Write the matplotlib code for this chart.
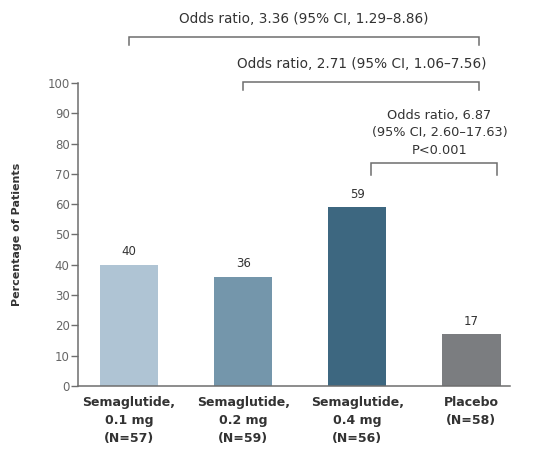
import matplotlib
matplotlib.use("Agg")
import matplotlib.pyplot as plt

# data
groups = ["Semaglutide,\n0.1 mg\n(N=57)", "Semaglutide,\n0.2 mg\n(N=59)",
          "Semaglutide,\n0.4 mg\n(N=56)", "Placebo\n(N=58)"]
percent = [40, 36, 59, 17]
bar_colors = ["#afc4d4", "#7496ab", "#3d6780", "#7b7d80"]
yticks = [0, 10, 20, 30, 40, 50, 60, 70, 80, 90, 100]

# comparisons: (left bar, right bar, bracket level, label)
comparisons = [
    (0, 3, 115.2, "Odds ratio, 3.36 (95% CI, 1.29\u20138.86)"),
    (1, 3, 100.4, "Odds ratio, 2.71 (95% CI, 1.06\u20137.56)"),
    (2, 3, 73.6, "Odds ratio, 6.87\n(95% CI, 2.60\u201317.63)\nP<0.001"),
]

TXT = "#333333"
AX = "#6e6e6e"

fig = plt.figure(figsize=(5.43, 4.54), dpi=100)
ax = fig.add_axes([0.1436, 0.150, 0.796, 0.667])

x = list(range(len(groups)))
ax.bar(x, percent, width=0.51, color=bar_colors)
for xi, v in zip(x, percent):
    ax.text(xi, v + 2.2, str(v), ha="center", va="bottom", fontsize=8.5, color=TXT)

ax.set_xlim(-0.447, 3.34)
ax.set_ylim(0, 100)
ax.set_yticks(yticks)
ax.tick_params(axis="y", direction="out", length=5, width=1, color=AX,
               labelsize=8.5, labelcolor="#666666", pad=1)
ax.set_xticks(x)
ax.set_xticklabels(groups, fontsize=9, fontweight="bold", color=TXT, linespacing=1.5)
ax.tick_params(axis="x", length=0, pad=7)
for s in ["top", "right"]:
    ax.spines[s].set_visible(False)
for s in ["left", "bottom"]:
    ax.spines[s].set_color(AX)
    ax.spines[s].set_linewidth(1.1)
ax.set_ylabel("Percentage of Patients", fontsize=8, fontweight="bold", color=TXT, labelpad=18)

# brackets
for i, j, lvl, label in comparisons:
    x0 = i + (0.12 if i == 2 else 0.0)
    x1 = j + (0.22 if i == 2 else 0.07)
    drop = 4 if i == 2 else 2.7
    ax.plot([x0, x0, x1, x1], [lvl - drop, lvl, lvl, lvl - drop], color=AX, lw=1.1,
            clip_on=False, solid_joinstyle="miter")
    if i == 2:
        ax.text((x0 + x1) / 2 + 0.05, lvl + 2.0, label, ha="center", va="bottom",
                fontsize=9.3, color=TXT, linespacing=1.45)
    else:
        ax.text((x0 + x1) / 2, lvl + 3.5, label, ha="center", va="bottom",
                fontsize=9.8, color=TXT)

fig.savefig("out.png", dpi=100, facecolor="white")
